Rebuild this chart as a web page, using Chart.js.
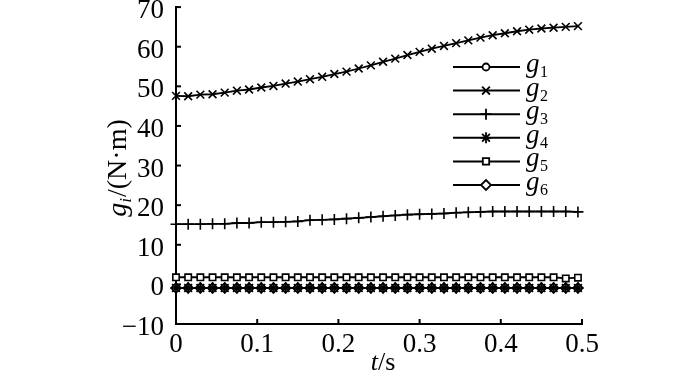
<!DOCTYPE html>
<html><head><meta charset="utf-8">
<script src="https://cdn.jsdelivr.net/npm/chart.js@4"></script>
<style>html,body{margin:0;padding:0;background:#fff}#wrap{width:700px;height:374px;position:relative}</style>
</head><body><div id="wrap"><canvas id="c" width="700" height="374"></canvas></div>
<script>
// ---- data ----
const times = [0, 0.015, 0.03, 0.045, 0.06, 0.075, 0.09, 0.105, 0.12, 0.135, 0.15, 0.165, 0.18, 0.195, 0.21, 0.225, 0.24, 0.255, 0.27, 0.285, 0.3, 0.315, 0.33, 0.345, 0.36, 0.375, 0.39, 0.405, 0.42, 0.435, 0.45, 0.465, 0.48, 0.495];
const g1 = [-0.9, -0.9, -0.9, -0.9, -0.9, -0.9, -0.9, -0.9, -0.9, -0.9, -0.9, -0.9, -0.9, -0.9, -0.9, -0.9, -0.9, -0.9, -0.9, -0.9, -0.9, -0.9, -0.9, -0.9, -0.9, -0.9, -0.9, -0.9, -0.9, -0.9, -0.9, -0.9, -0.9, -0.9];
const g2 = [47.6, 47.5, 47.9, 48.0, 48.4, 48.9, 49.2, 49.7, 50.1, 50.7, 51.2, 51.8, 52.4, 53.1, 53.7, 54.5, 55.3, 56.2, 57.0, 57.9, 58.7, 59.5, 60.2, 60.9, 61.6, 62.3, 62.9, 63.4, 63.9, 64.3, 64.6, 64.8, 65.0, 65.2];
const g3 = [15.2, 15.2, 15.2, 15.3, 15.3, 15.5, 15.5, 15.7, 15.7, 15.8, 15.9, 16.2, 16.3, 16.4, 16.6, 16.8, 17.0, 17.2, 17.4, 17.6, 17.7, 17.8, 17.9, 18.1, 18.2, 18.3, 18.4, 18.4, 18.4, 18.4, 18.4, 18.4, 18.4, 18.3];
const g4 = [-0.9, -0.9, -0.9, -0.9, -0.9, -0.9, -0.9, -0.9, -0.9, -0.9, -0.9, -0.9, -0.9, -0.9, -0.9, -0.9, -0.9, -0.9, -0.9, -0.9, -0.9, -0.9, -0.9, -0.9, -0.9, -0.9, -0.9, -0.9, -0.9, -0.9, -0.9, -0.9, -0.9, -0.9];
const g5 = [1.8, 1.8, 1.8, 1.8, 1.8, 1.8, 1.8, 1.8, 1.8, 1.8, 1.8, 1.8, 1.8, 1.8, 1.8, 1.8, 1.8, 1.8, 1.8, 1.8, 1.8, 1.8, 1.8, 1.8, 1.8, 1.8, 1.8, 1.8, 1.8, 1.8, 1.8, 1.8, 1.5, 1.7];
const g6 = [-0.9, -0.9, -0.9, -0.9, -0.9, -0.9, -0.9, -0.9, -0.9, -0.9, -0.9, -0.9, -0.9, -0.9, -0.9, -0.9, -0.9, -0.9, -0.9, -0.9, -0.9, -0.9, -0.9, -0.9, -0.9, -0.9, -0.9, -0.9, -0.9, -0.9, -0.9, -0.9, -0.9, -0.9];
const seriesNames = ['1', '2', '3', '4', '5', '6'];
const yTicks = [-10, 0, 10, 20, 30, 40, 50, 60, 70];
const xTicks = [0, 0.1, 0.2, 0.3, 0.4, 0.5];

const SERIF = "'Liberation Serif', 'Times New Roman', serif";
const styles = ['circle', 'crossRot', 'cross', 'star', 'rect', 'rectRot'];
const radii = [3.5, 5.5, 5.5, 5.5, 4.5, 5];
const orders = [3, 2, 2, 0, 1, 4];
const allData = [g1, g2, g3, g4, g5, g6];

const datasets = allData.map((arr, i) => ({
  label: 'g' + seriesNames[i],
  data: times.map((t, k) => ({x: t, y: arr[k]})),
  borderColor: '#000',
  backgroundColor: '#fff',
  borderWidth: 1.8,
  pointStyle: styles[i],
  pointRadius: radii[i],
  pointBorderWidth: 1.6,
  pointBorderColor: '#000',
  pointBackgroundColor: '#fff',
  tension: 0,
  clip: false,
  order: orders[i]
}));

const deco = {
  id: 'deco',
  afterDraw(chart) {
    const ctx = chart.ctx;
    const xs = chart.scales.x, ys = chart.scales.y;
    ctx.save();
    ctx.strokeStyle = '#000';
    ctx.lineWidth = 2;
    // inward ticks
    yTicks.forEach(v => {
      const y = ys.getPixelForValue(v);
      ctx.beginPath(); ctx.moveTo(xs.left, y); ctx.lineTo(xs.left + 5, y); ctx.stroke();
    });
    xTicks.forEach(v => {
      const x = xs.getPixelForValue(v);
      ctx.beginPath(); ctx.moveTo(x, ys.bottom); ctx.lineTo(x, ys.bottom - 5); ctx.stroke();
    });
    // legend
    seriesNames.forEach((name, i) => {
      const y = 67 + i * 23.6;
      ctx.strokeStyle = '#000';
      ctx.lineWidth = 2;
      ctx.beginPath(); ctx.moveTo(453, y); ctx.lineTo(520, y); ctx.stroke();
      ctx.fillStyle = '#fff';
      ctx.lineWidth = 1.8;
      Chart.helpers.drawPoint(ctx, {pointStyle: styles[i], radius: radii[i], borderWidth: 1.8, rotation: 0}, 486, y);
      ctx.fillStyle = '#000';
      ctx.textBaseline = 'alphabetic';
      ctx.textAlign = 'left';
      ctx.font = "italic 27px " + SERIF;
      ctx.fillText('g', 526, y + 5);
      const gw = ctx.measureText('g').width;
      ctx.font = "16px " + SERIF;
      ctx.fillText(name, 526 + gw + 0.5, y + 10);
    });
    // x title
    ctx.fillStyle = '#000';
    ctx.textBaseline = 'alphabetic';
    ctx.font = "italic 26px " + SERIF;
    const tw = ctx.measureText('t').width;
    ctx.font = "26px " + SERIF;
    const sw = ctx.measureText('/s').width;
    let x0 = 383 - (tw + sw) / 2;
    ctx.font = "italic 26px " + SERIF;
    ctx.fillText('t', x0, 370);
    ctx.font = "26px " + SERIF;
    ctx.fillText('/s', x0 + tw, 370);
    // y title rotated
    ctx.save();
    ctx.translate(126, 168);
    ctx.rotate(-Math.PI / 2);
    ctx.font = "italic 28px " + SERIF;
    const w1 = ctx.measureText('g').width;
    ctx.font = "italic 17px " + SERIF;
    const w2 = ctx.measureText('i').width;
    ctx.font = "28px " + SERIF;
    const w3 = ctx.measureText('/(N\u00b7m)').width;
    const tot = w1 + w2 + 1 + w3;
    let px = -tot / 2;
    ctx.font = "italic 28px " + SERIF;
    ctx.fillText('g', px, 0);
    ctx.font = "italic 17px " + SERIF;
    ctx.fillText('i', px + w1, 5);
    ctx.font = "28px " + SERIF;
    ctx.fillText('/(N\u00b7m)', px + w1 + w2 + 1, 0);
    ctx.restore();
    ctx.restore();
  }
};

new Chart(document.getElementById('c'), {
  type: 'line',
  data: {datasets},
  options: {
    responsive: false,
    animation: false,
    events: [],
    layout: {padding: {left: 0, right: 118, top: 6, bottom: 0}},
    plugins: {legend: {display: false}, tooltip: {enabled: false}},
    scales: {
      x: {
        type: 'linear', min: 0, max: 0.5,
        afterFit: s => { s.height = 50; s.paddingLeft = 0; s.paddingRight = 0; },
        afterBuildTicks: s => { s.ticks = xTicks.map(v => ({value: v})); },
        grid: {display: true, drawOnChartArea: false, drawTicks: false},
        border: {display: true, color: '#000', width: 2},
        ticks: {color: '#000', padding: 5, font: {family: SERIF, size: 27}, maxRotation: 0,
          callback: v => String(v)}
      },
      y: {
        type: 'linear', min: -10, max: 70,
        afterFit: s => { s.width = 176; s.paddingTop = 0; s.paddingBottom = 0; },
        afterBuildTicks: s => { s.ticks = yTicks.map(v => ({value: v})); },
        grid: {display: true, drawOnChartArea: false, drawTicks: false},
        border: {display: true, color: '#000', width: 2},
        ticks: {color: '#000', padding: 12, labelOffset: 4, font: {family: SERIF, size: 27},
          callback: v => String(v).replace('-', '\u2212')}
      }
    }
  },
  plugins: [deco]
});
</script>
</body></html>
